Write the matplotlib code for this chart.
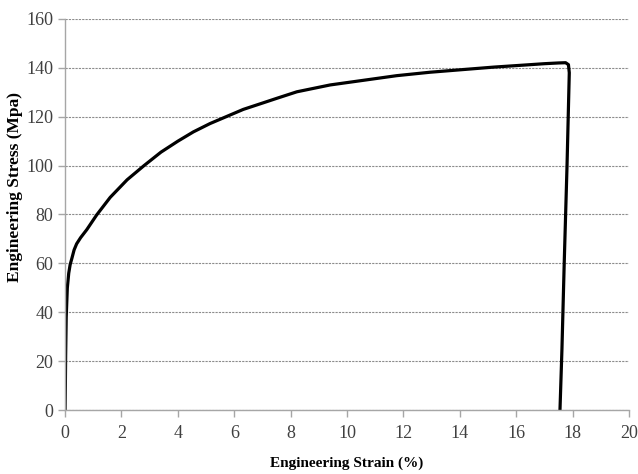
import numpy as np
import matplotlib.pyplot as plt

# stress-strain curve
strain = [0.0, 0.01, 0.02, 0.04, 0.08, 0.13, 0.18, 0.24, 0.32, 0.41, 0.55, 0.77,
          1.12, 1.6, 2.2, 2.8, 3.4, 4.0, 4.55, 5.14, 5.73, 6.32, 7.03,
          7.5, 8.22, 9.4, 10.58, 11.76, 12.94, 14.12, 15.2, 16.24, 17.0,
          17.5, 17.75, 17.85, 17.88, 17.8, 17.7, 17.62, 17.55]
stress = [0.0, 10.0, 22.0, 38.0, 50.0, 56.0, 59.5, 62.0, 65.5, 68.0, 70.5, 73.8,
          79.8, 87.0, 94.2, 100.0, 105.5, 110.0, 113.8, 117.2, 120.1, 123.0, 125.7,
          127.5, 130.2, 133.0, 134.9, 136.8, 138.2, 139.3, 140.3, 141.1, 141.7,
          142.0, 142.1, 141.3, 138.0, 100.0, 60.0, 25.0, 0.0]

plt.rcParams['font.family'] = ['Liberation Serif', 'DejaVu Serif']

fig = plt.figure(figsize=(6.38, 4.74), dpi=100)
ax = fig.add_axes([0.102, 0.135, 0.884, 0.825])

ax.plot(strain, stress, color='black', linewidth=2.3, solid_joinstyle='round')

ax.set_xlim(0, 20)
ax.set_ylim(0, 160)
ax.set_xticks(np.arange(0, 21, 2))
ax.set_yticks(np.arange(0, 161, 20))

ax.grid(axis='y', color='#8c8c8c', linestyle=(0, (2, 1)), linewidth=0.8)
ax.set_axisbelow(True)

for side in ['top', 'right']:
    ax.spines[side].set_visible(False)
for side in ['left', 'bottom']:
    ax.spines[side].set_color('#a6a6a6')
    ax.spines[side].set_linewidth(1.0)

ax.tick_params(axis='both', colors='#a6a6a6', labelcolor='#404040',
               labelsize=13, length=5, width=1.0)
ax.tick_params(axis='x', pad=6)

ax.set_xlabel('Engineering Strain (%)', fontsize=11, fontweight='bold', labelpad=10)
ax.set_ylabel('Engineering Stress (Mpa)', fontsize=12.5, fontweight='bold')
ax.yaxis.set_label_coords(-0.074, 0.57)

plt.savefig('out.png', dpi=100)
